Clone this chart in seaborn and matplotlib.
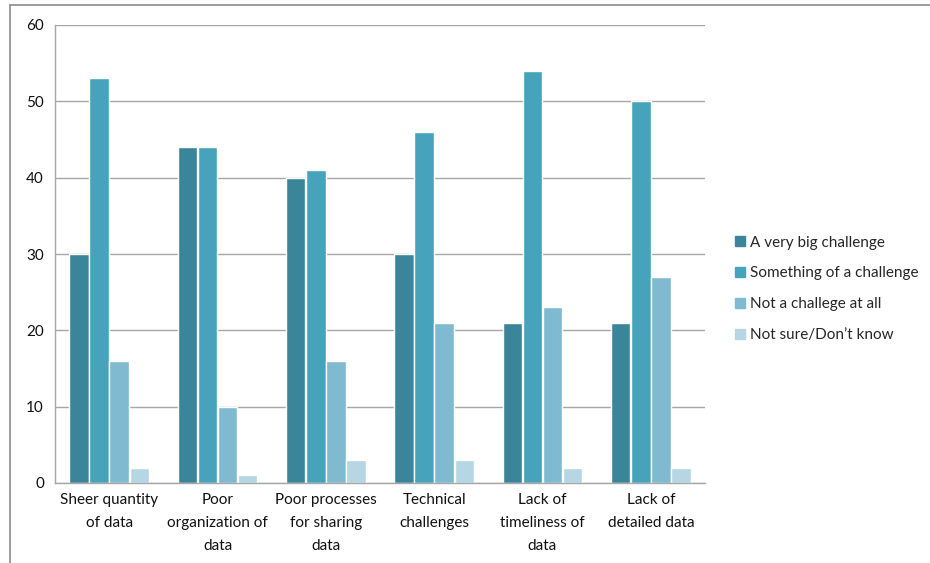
import matplotlib
matplotlib.use("Agg")
import matplotlib.pyplot as plt
import seaborn as sns
import pandas as pd
import numpy as np
from matplotlib.lines import Line2D

categories = [
    "Sheer quantity\nof data",
    "Poor\norganization of\ndata",
    "Poor processes\nfor sharing\ndata",
    "Technical\nchallenges",
    "Lack of\ntimeliness of\ndata",
    "Lack of\ndetailed data",
]
series_names = [
    "A very big challenge",
    "Something of a challenge",
    "Not a challege at all",
    "Not sure/Don\u2019t know",
]
very_big = [30, 44, 40, 30, 21, 21]
something = [53, 44, 41, 46, 54, 50]
not_at_all = [16, 10, 16, 21, 23, 27]
not_sure = [2, 1, 3, 3, 2, 2]
y_ticks = [0, 10, 20, 30, 40, 50, 60]

colors = ["#3a8599", "#47a3bb", "#7fbad0", "#b5d6e2"]

rows = []
for name, vals in zip(series_names, [very_big, something, not_at_all, not_sure]):
    for cat, v in zip(categories, vals):
        rows.append({"category": cat, "series": name, "value": v})
df = pd.DataFrame(rows)

sns.set_theme(style="white")
plt.rcParams["font.family"] = ["Lato", "DejaVu Sans"]

fig = plt.figure(figsize=(9.3, 5.63), dpi=100)
ax = fig.add_axes([55 / 930, 1 - 483 / 563, 650 / 930, 458 / 563])

sns.barplot(
    data=df, x="category", y="value", hue="series",
    order=categories, hue_order=series_names, palette=colors,
    width=0.74, gap=0.03, edgecolor="white", linewidth=1.0,
    saturation=1, legend=False, ax=ax,
)

grid_c = "#a6a6a6"
ax.set_ylim(0, 60)
ax.set_xlim(-0.5, len(categories) - 0.5)
ax.set_yticks(y_ticks)
ax.set_yticklabels([str(t) for t in y_ticks], fontsize=11, color="#111111")
ax.yaxis.grid(True, color=grid_c, linewidth=1)
ax.set_axisbelow(True)
ax.tick_params(axis="y", length=5, color=grid_c, width=1, pad=3)

ax.set_xticks(range(len(categories)))
ax.set_xticklabels(categories, fontsize=11, color="#111111", linespacing=1.85, va="top")
ax.tick_params(axis="x", which="major", length=0, pad=7)
ax.set_xticks(np.arange(-0.5, len(categories), 1.0), minor=True)
ax.tick_params(axis="x", which="minor", length=6, color=grid_c, width=1)

for s in ["top", "right"]:
    ax.spines[s].set_visible(False)
for s in ["left", "bottom"]:
    ax.spines[s].set_color(grid_c)
    ax.spines[s].set_linewidth(1)
ax.set_xlabel("")
ax.set_ylabel("")

handles = [Line2D([0], [0], marker="s", linestyle="none", markersize=7,
                  markerfacecolor=c, markeredgecolor=c) for c in colors]
fig.legend(handles, series_names, loc="upper left",
           bbox_to_anchor=(725 / 930, 1 - 228 / 563), frameon=False,
           fontsize=11, labelspacing=1.1, handletextpad=0.15,
           handlelength=1.0, borderpad=0)

# outer frame
fig.add_artist(Line2D([10 / 930, 10 / 930], [0, 1 - 5 / 563], color="#8c8c8c",
                      linewidth=1.2, transform=fig.transFigure))
fig.add_artist(Line2D([10 / 930, 1], [1 - 5 / 563, 1 - 5 / 563], color="#8c8c8c",
                      linewidth=1.2, transform=fig.transFigure))

fig.savefig("out.png", dpi=100)
